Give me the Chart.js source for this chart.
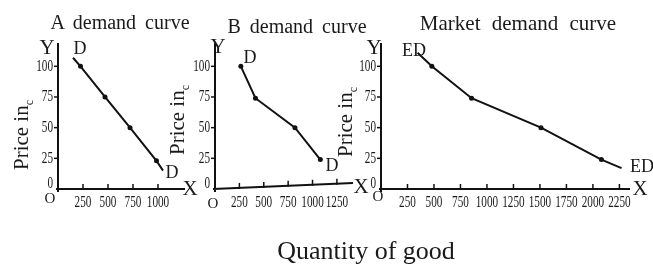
<!DOCTYPE html>
<html>
<head>
<meta charset="utf-8">
<script src="https://cdn.jsdelivr.net/npm/chart.js@4.4.1/dist/chart.umd.min.js"></script>
<style>
  html, body { margin: 0; padding: 0; background: #fff; }
  #wrap { position: relative; width: 653px; height: 264px; overflow: hidden;
          font-family: "Liberation Serif", "Times New Roman", serif; color: #1a1a1a; }
  #wrap canvas { position: absolute; left: 0; top: 0; }
  .t { position: absolute; transform: translate(-50%, -50%); white-space: nowrap; line-height: 1; }
  .title { font-size: 20px; word-spacing: 4px; }
  .axl { font-size: 21px; }
  .mk { font-size: 18px; }
  .org { font-size: 15px; }
  .ylab { font-size: 21px; transform: translate(-50%, -50%) rotate(-90deg); }
  .ylab sub { font-size: 12px; }
</style>
</head>
<body>
<div id="wrap">
  <canvas id="chartA" width="653" height="264"></canvas>
  <canvas id="chartB" width="653" height="264"></canvas>
  <canvas id="chartM" width="653" height="264"></canvas>

  <div class="t title" style="left:120px;top:22px">A demand curve</div>
  <div class="t title" style="left:297px;top:26px">B demand curve</div>
  <div class="t title" style="left:518px;top:23px;font-size:21px;word-spacing:6px">Market demand curve</div>

  <div class="t ylab" style="left:23px;top:135px">Price in<sub>c</sub></div>
  <div class="t ylab" style="left:179px;top:120px">Price in<sub>c</sub></div>
  <div class="t ylab" style="left:347px;top:122px">Price in<sub>c</sub></div>

  <div class="t axl" style="left:47px;top:47px">Y</div>
  <div class="t axl" style="left:218px;top:46px">Y</div>
  <div class="t axl" style="left:374px;top:47px">Y</div>
  <div class="t axl" style="left:190px;top:188px">X</div>
  <div class="t axl" style="left:361px;top:186px">X</div>
  <div class="t axl" style="left:640px;top:188px">X</div>
  <div class="t org" style="left:50px;top:198px">O</div>
  <div class="t org" style="left:213px;top:203px">O</div>
  <div class="t org" style="left:378px;top:196px">O</div>

  <div class="t mk" style="left:80px;top:48px">D</div>
  <div class="t mk" style="left:172px;top:172px">D</div>
  <div class="t mk" style="left:250px;top:57px">D</div>
  <div class="t mk" style="left:332px;top:165px">D</div>
  <div class="t mk" style="left:414px;top:50px">ED</div>
  <div class="t mk" style="left:642px;top:166px">ED</div>

  <div class="t" style="left:366px;top:251px;font-size:26px">Quantity of good</div>
</div>

<script>
// values (quantity, price)
const aQty = [150, 225, 470, 720, 985, 1050];
const aPrice = [107, 100, 75, 50, 23, 15];
const bQty = [265, 415, 820, 1080];
const bPrice = [100, 74, 50, 24];
const mktQty = [345, 480, 855, 1510, 2080, 2270];
const mktPrice = [111, 100, 74, 50, 24, 17];

const aTicks = [250, 500, 750, 1000];
const bTicks = [250, 500, 750, 1000, 1250];
const mktTicks = [250, 500, 750, 1000, 1250, 1500, 1750, 2000, 2250];
const priceTicks = [0, 25, 50, 75, 100];

// hand-drawn style axes: condensed serif labels, small ticks, optional slant
const handAxes = {
    id: 'handAxes',
    afterDraw(chart, args, opts) {
        const { ctx, chartArea, scales } = chart;
        const { left, right, top, bottom } = chartArea;
        const slant = opts.slant || 0;
        const yAt = px => bottom - slant * (px - left) / (right - left);

        ctx.save();
        ctx.strokeStyle = '#111';
        ctx.fillStyle = '#1a1a1a';
        ctx.lineWidth = 2;
        ctx.beginPath();
        ctx.moveTo(left, top);
        ctx.lineTo(left, bottom + 3);
        ctx.moveTo(left - 2, bottom);
        ctx.lineTo(right, yAt(right));
        ctx.stroke();

        ctx.lineWidth = 1.5;
        ctx.font = '16px "Liberation Serif", serif';
        ctx.textBaseline = 'middle';

        opts.xTicks.forEach(v => {
            const px = scales.x.getPixelForValue(v);
            ctx.beginPath();
            ctx.moveTo(px, yAt(px) - 5);
            ctx.lineTo(px, yAt(px) + 1);
            ctx.stroke();
            ctx.save();
            ctx.translate(px, bottom + 14);
            ctx.scale(0.7, 1);
            ctx.textAlign = 'center';
            ctx.fillText(String(v), 0, 0);
            ctx.restore();
        });

        priceTicks.forEach(v => {
            const py = scales.y.getPixelForValue(v);
            if (v > 0) {
                ctx.beginPath();
                ctx.moveTo(left - 4, py);
                ctx.lineTo(left, py);
                ctx.stroke();
            }
            ctx.save();
            ctx.translate(left - 5, v === 0 ? py - 5 : py);
            ctx.scale(0.7, 1);
            ctx.textAlign = 'right';
            ctx.fillText(String(v), 0, 0);
            ctx.restore();
        });
        ctx.restore();
    }
};

function makePanel(id, qty, price, radii, xMax, xTicks, box, slant) {
    const points = qty.map((q, i) => ({ x: q, y: price[i] }));
    return new Chart(document.getElementById(id), {
        type: 'line',
        data: {
            datasets: [{
                data: points,
                borderColor: '#111',
                borderWidth: 2,
                pointRadius: radii,
                pointBackgroundColor: '#111',
                pointBorderWidth: 0,
                tension: 0,
                clip: false
            }]
        },
        options: {
            responsive: false,
            animation: false,
            devicePixelRatio: 1,
            layout: {
                padding: { left: box.left, top: box.top, right: 653 - box.right, bottom: 264 - box.bottom }
            },
            scales: {
                x: { type: 'linear', min: 0, max: xMax, display: false, afterFit: s => { s.height = 0; } },
                y: { type: 'linear', min: 0, max: 119, display: false, afterFit: s => { s.width = 0; } }
            },
            plugins: {
                legend: { display: false },
                tooltip: { enabled: false },
                handAxes: { xTicks: xTicks, slant: slant }
            }
        },
        plugins: [handAxes]
    });
}

makePanel('chartA', aQty, aPrice, [0, 2.5, 2.5, 2.5, 2.5, 0], 1270, aTicks,
    { left: 58, top: 43, right: 185, bottom: 189 }, 0);
makePanel('chartB', bQty, bPrice, [2.5, 2.5, 2.5, 2.5], 1415, bTicks,
    { left: 215, top: 43, right: 353, bottom: 189 }, 6);
makePanel('chartM', mktQty, mktPrice, [0, 2.5, 2.5, 2.5, 2.5, 0], 2350, mktTicks,
    { left: 381, top: 43, right: 630, bottom: 189 }, 0);
</script>
</body>
</html>
